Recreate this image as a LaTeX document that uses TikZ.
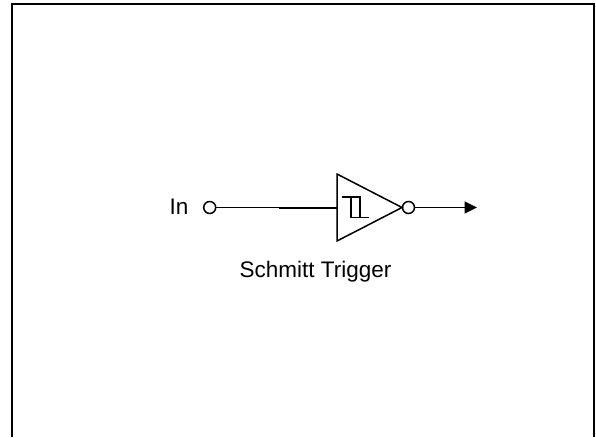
\documentclass[tikz,border=0pt]{standalone}
\usepackage{fontspec}
\setmainfont{Liberation Sans}
\usetikzlibrary{arrows.meta}
\tikzset{
  wire/.style={draw=black,line width=1.5pt},
  term/.style={circle,draw=black,line width=1.5pt,fill=white,minimum size=12pt,inner sep=0pt},
  lbl/.style={inner sep=0pt,font=\fontsize{22.5pt}{26pt}\selectfont,text=black,anchor=base},
}
\begin{document}
\begin{tikzpicture}[x=1pt,y=-1pt]
\useasboundingbox (0,0) rectangle (596,437);
\fill[white] (0,0) rectangle (596,437);
\coordinate (fbl) at (12,437);
\coordinate (ftl) at (12,4);
\coordinate (ftr) at (594,4);
\coordinate (fbr) at (594,437);
\draw[line width=2.2pt,line cap=butt,line join=miter] (fbl) -- (ftl) -- (ftr) -- (fbr);
\coordinate (tl) at (337,174);
\coordinate (tb) at (337,241);
\coordinate (tip) at (402,207.5);
\coordinate (inpin) at (337,207.5);
\coordinate (thick) at (279,207.5);
\coordinate (arrowend) at (477,207.5);
\node[term] (incirc) at (209.7,207.5) {};
\node[term] (outcirc) at (408.5,207.5) {};
\draw[wire] (incirc) -- (inpin);
\draw[line width=2pt] (thick) -- (inpin);
\draw[wire,line join=miter] (tl) -- (tip) -- (tb) -- cycle;
\draw[wire,-{Triangle[length=12.5pt,width=12pt]}] (outcirc) -- (arrowend);
\draw[line width=1.4pt] (342,197) -- (360,197) -- (360,217.5) -- (369,217.5);
\draw[line width=1.4pt] (351,197) -- (351,217.5) -- (360,217.5);
\node[lbl] (inlabel) at (179,214.5) {In};
\node[lbl] (title) at (315.5,277.5) {Schmitt Trigger};
\end{tikzpicture}
\end{document}
